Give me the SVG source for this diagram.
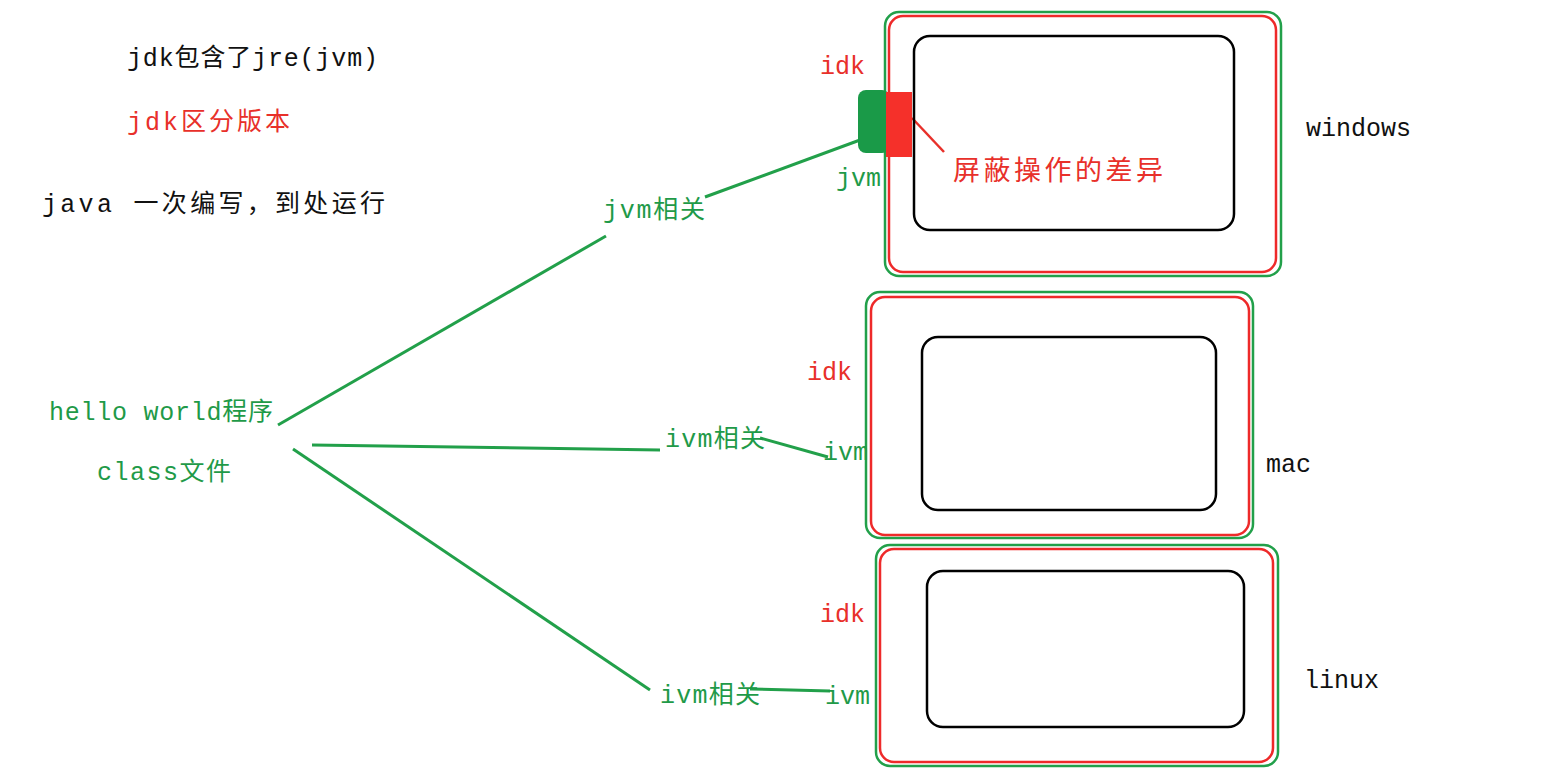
<svg xmlns="http://www.w3.org/2000/svg" width="1551" height="774" viewBox="0 0 1551 774">
<style>
text{font-family:"Liberation Mono","Noto Sans CJK SC",monospace;font-size:25px}
.k{fill:#111}.r{fill:#e8302a}.g{fill:#1f9a48}
.go{fill:none;stroke:#22a04a;stroke-width:2.5}
.ro{fill:none;stroke:#ee2a2a;stroke-width:2.5}
.bo{fill:none;stroke:#000;stroke-width:2.5}
.c{stroke:#22a04a;stroke-width:3;fill:none}
</style>
<rect width="1551" height="774" fill="#fff"/>
<g id="notes">
<text class="k" x="127" y="66" textLength="251">jdk包含了jre(jvm)</text>
<text class="r" x="127" y="130" textLength="163">jdk区分版本</text>
<text class="k" x="42" y="212" textLength="343">java 一次编写，到处运行</text>
</g>
<g id="hello">
<text class="g" x="49" y="420" textLength="224">hello world程序</text>
<text class="g" x="97" y="480" textLength="134">class文件</text>
</g>
<g id="connectors">
<path class="c" d="M278 425 L606 236"/>
<path class="c" d="M705 197 L860 140"/>
<path class="c" d="M312 445 L660 450"/>
<path class="c" d="M293 449 L650 690"/>
<path class="c" d="M760 438 L828 457"/>
<path class="c" d="M750 689 L830 691"/>
<path d="M912 118 L944 152" stroke="#e8302a" stroke-width="2.5"/>
</g>
<g id="windows">
<rect class="go" x="885" y="12" width="396" height="264" rx="14"/>
<rect class="ro" x="889" y="16" width="387" height="256" rx="14"/>
<rect class="bo" x="914" y="36" width="320" height="194" rx="16"/>
<rect x="858" y="90" width="32" height="63" rx="8" fill="#1a9a48"/>
<rect x="886" y="92" width="26" height="65" fill="#f5302a"/>
<text class="r" x="820" y="74">idk</text>
<text class="g" x="836" y="186">jvm</text>
<text class="r" x="953" y="180" textLength="210" style="font-family:'Noto Sans CJK SC',sans-serif;font-size:27px">屏蔽操作的差异</text>
<text class="k" x="1306" y="136">windows</text>
<text class="g" x="603" y="218" textLength="102">jvm相关</text>
</g>
<g id="mac">
<rect class="go" x="866" y="292" width="387" height="246" rx="14"/>
<rect class="ro" x="871" y="297" width="378" height="238" rx="14"/>
<rect class="bo" x="922" y="337" width="294" height="173" rx="16"/>
<text class="r" x="807" y="380">idk</text>
<text class="g" x="823" y="460">ivm</text>
<text class="k" x="1266" y="472">mac</text>
<text class="g" x="665" y="447" textLength="100">ivm相关</text>
</g>
<g id="linux">
<rect class="go" x="876" y="545" width="402" height="221" rx="14"/>
<rect class="ro" x="880" y="549" width="393" height="213" rx="14"/>
<rect class="bo" x="927" y="571" width="317" height="156" rx="16"/>
<text class="r" x="820" y="622">idk</text>
<text class="g" x="825" y="704">ivm</text>
<text class="k" x="1304" y="688">linux</text>
<text class="g" x="660" y="703" textLength="100">ivm相关</text>
</g>
</svg>
